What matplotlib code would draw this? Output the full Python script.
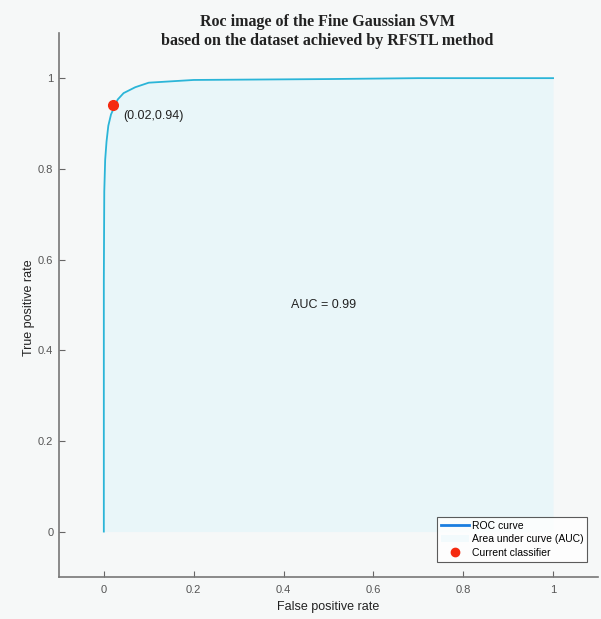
import matplotlib
matplotlib.use('Agg')
from matplotlib import pyplot as plt
from matplotlib.patches import Patch
from matplotlib.lines import Line2D

# ROC curve
fpr = [0.0, 0.0, 0.001, 0.003, 0.006, 0.01, 0.016, 0.024, 0.031, 0.044, 0.07, 0.1, 0.2, 0.5, 0.7, 1.0]
tpr = [0.0, 0.55, 0.75, 0.82, 0.86, 0.895, 0.92, 0.938, 0.953, 0.967, 0.98, 0.99, 0.996, 0.998, 1.0, 1.0]
auc = 0.99
point = (0.02, 0.94)

plt.rcParams['font.family'] = ['Liberation Sans', 'DejaVu Sans']

fig = plt.figure(figsize=(6.01, 6.19), dpi=100, facecolor='#f6f8f8')
ax = fig.add_axes([0.098, 0.068, 0.897, 0.879])
ax.set_facecolor('#f6f8f8')

ax.fill_between(fpr, tpr, 0, color='#e9f6f9', lw=0)
ax.plot(fpr, tpr, color='#2bb5d8', lw=1.3)
ax.plot(point[0], point[1], 'o', color='#f52a10', ms=7)
ax.text(point[0] + 0.023, point[1] - 0.024, '(%.2f,%.2f)' % point,
        fontsize=9, color='#222222', va='center')
ax.text(0.49, 0.5, 'AUC = %.2f' % auc, fontsize=9, color='#222222',
        ha='center', va='center')

ax.set_xlim(-0.1, 1.1)
ax.set_ylim(-0.1, 1.1)
ax.set_xticks([0, 0.2, 0.4, 0.6, 0.8, 1])
ax.set_xticklabels(['0', '0.2', '0.4', '0.6', '0.8', '1'])
ax.set_yticks([0, 0.2, 0.4, 0.6, 0.8, 1])
ax.set_yticklabels(['0', '0.2', '0.4', '0.6', '0.8', '1'])
ax.tick_params(direction='in', length=4, colors='#666666', labelcolor='#555555',
               labelsize=8)
ax.tick_params(axis='x', pad=6)
ax.tick_params(axis='y', pad=4)
for s in ['top', 'right']:
    ax.spines[s].set_visible(False)
for s in ['left', 'bottom']:
    ax.spines[s].set_color('#777777')
    ax.spines[s].set_linewidth(1.2)

ax.set_xlabel('False positive rate', fontsize=9, color='#222222')
ax.set_ylabel('True positive rate', fontsize=9, color='#222222')
ax.xaxis.set_label_coords(0.5, -0.045)
ax.yaxis.set_label_coords(-0.045, 0.494)

fig.text(0.545, 0.965, 'Roc image of the Fine Gaussian SVM', ha='center', va='center',
         family='Liberation Serif', fontweight='bold', fontsize=11.5, color='#222222')
fig.text(0.545, 0.934, 'based on the dataset achieved by RFSTL method', ha='center',
         va='center', family='Liberation Serif', fontweight='bold', fontsize=11.5,
         color='#222222')

handles = [Line2D([], [], color='#1a7ee0', lw=2),
           Patch(facecolor='#f2fafc', edgecolor='none'),
           Line2D([], [], marker='o', color='#f52a10', ls='none', ms=6)]
labels = ['ROC curve', 'Area under curve (AUC)', 'Current classifier']
leg = ax.legend(handles, labels, loc='lower right', bbox_to_anchor=(0.98, 0.028),
                fontsize=7.5, frameon=True, fancybox=False, handlelength=2.7,
                handletextpad=0.3, borderpad=0.35, labelspacing=0.35, borderaxespad=0)
leg.get_frame().set_edgecolor('#333333')
leg.get_frame().set_facecolor('#ffffff')
leg.get_frame().set_linewidth(0.8)

fig.savefig('out.png', dpi=100, facecolor=fig.get_facecolor())
